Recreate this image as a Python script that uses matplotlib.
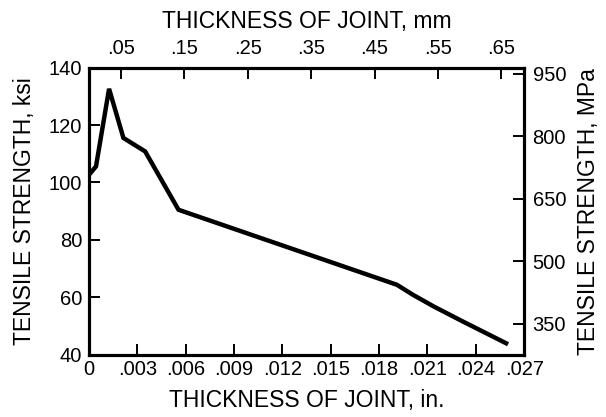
import matplotlib
matplotlib.use("Agg")
import matplotlib.pyplot as plt

plt.rcParams['font.family'] = ['Liberation Sans', 'DejaVu Sans']

# joint thickness (in.) vs tensile strength (ksi)
thickness_in = [0, 0.00043, 0.00124, 0.00213, 0.00348, 0.00555,
                0.0191, 0.0201, 0.0214, 0.0232, 0.0260]
strength_ksi = [102.7, 105.6, 132.6, 115.5, 110.8, 90.5,
                64.4, 60.9, 56.8, 51.6, 43.7]

in_ticks = [0, 0.003, 0.006, 0.009, 0.012, 0.015, 0.018, 0.021, 0.024, 0.027]
in_labels = ['0', '.003', '.006', '.009', '.012', '.015', '.018', '.021', '.024', '.027']
mm_ticks = [0.05, 0.15, 0.25, 0.35, 0.45, 0.55, 0.65]
mm_labels = ['.05', '.15', '.25', '.35', '.45', '.55', '.65']
ksi_ticks = [40, 60, 80, 100, 120, 140]
mpa_ticks = [350, 500, 650, 800, 950]

KSI_TO_MPA = 6.895
IN_TO_MM = 25.4

TICK_FS = 14.5
LABEL_FS = 16.5

fig = plt.figure(figsize=(6.06, 4.17), dpi=100)
ax = fig.add_axes([0.147, 0.149, 0.718, 0.689])

ax.plot(thickness_in, strength_ksi, color='black', lw=3.2,
        solid_joinstyle='miter', solid_capstyle='butt')

ax.set_xlim(0, 0.027)
ax.set_ylim(40, 140)
ax.set_xticks(in_ticks)
ax.set_xticklabels(in_labels)
ax.set_yticks(ksi_ticks)
ax.set_yticklabels([str(t) for t in ksi_ticks])
ax.set_xlabel('THICKNESS OF JOINT, in.', fontsize=LABEL_FS, labelpad=7)
ax.set_ylabel('TENSILE STRENGTH, ksi', fontsize=LABEL_FS, labelpad=9)
ax.tick_params(axis='x', pad=4)
ax.tick_params(axis='y', pad=5)

# right axis in MPa
ax_r = ax.twinx()
ax_r.set_ylim(40 * KSI_TO_MPA, 140 * KSI_TO_MPA)
ax_r.set_yticks(mpa_ticks)
ax_r.set_yticklabels([str(t) for t in mpa_ticks])
ax_r.set_ylabel('TENSILE STRENGTH, MPa', fontsize=LABEL_FS, labelpad=8)

# top axis in mm
ax_t = ax.twiny()
ax_t.set_xlim(0, 0.027 * IN_TO_MM)
ax_t.set_xticks(mm_ticks)
ax_t.set_xticklabels(mm_labels)
ax_t.set_xlabel('THICKNESS OF JOINT, mm', fontsize=LABEL_FS, labelpad=8)

for a in (ax, ax_r, ax_t):
    for s in a.spines.values():
        s.set_linewidth(2.2)
    a.tick_params(direction='in', length=8, width=1.4, labelsize=TICK_FS)
ax_r.tick_params(pad=6)
ax_t.tick_params(pad=7)

fig.savefig('out.png', dpi=100)
